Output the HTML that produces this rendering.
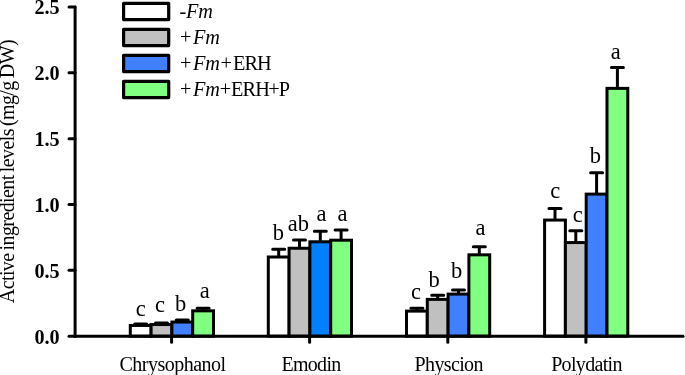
<!DOCTYPE html>
<html><head><meta charset="utf-8"><title>chart</title>
<style>
html,body{margin:0;padding:0;background:#fff;}
svg{display:block;font-family:"Liberation Serif",serif;}
</style></head><body>
<svg width="685" height="375" viewBox="0 0 685 375">
<rect width="685" height="375" fill="#fff"/>

<g stroke="#000" stroke-width="3.0" stroke-linecap="round">
<path d="M140.70 325.47V324.02M134.70 324.02H146.70" fill="none"/>
<rect x="130.30" y="325.47" width="20.80" height="10.68" fill="#ffffff" stroke-linejoin="miter"/>
<path d="M161.50 324.55V322.97M155.50 322.97H167.50" fill="none"/>
<rect x="151.10" y="324.55" width="20.80" height="11.60" fill="#c0c0c0" stroke-linejoin="miter"/>
<path d="M182.30 322.05V319.94M176.30 319.94H188.30" fill="none"/>
<rect x="171.90" y="322.05" width="20.80" height="14.10" fill="#4080ff" stroke-linejoin="miter"/>
<path d="M203.10 310.84V308.34M197.10 308.34H209.10" fill="none"/>
<rect x="192.70" y="310.84" width="20.80" height="25.31" fill="#80ff80" stroke-linejoin="miter"/>
<line x1="171.60" y1="336.15" x2="171.60" y2="342.34999999999997"/>
<path d="M278.70 257.00V249.29M272.70 249.29H284.70" fill="none"/>
<rect x="268.30" y="257.00" width="20.80" height="79.15" fill="#ffffff" stroke-linejoin="miter"/>
<path d="M299.50 248.24V240.00M293.50 240.00H305.50" fill="none"/>
<rect x="289.10" y="248.24" width="20.80" height="87.91" fill="#c0c0c0" stroke-linejoin="miter"/>
<path d="M320.30 241.78V231.14M314.30 231.14H326.30" fill="none"/>
<rect x="309.90" y="241.78" width="20.80" height="94.37" fill="#0080ff" stroke-linejoin="miter"/>
<path d="M341.10 240.20V230.05M335.10 230.05H347.10" fill="none"/>
<rect x="330.70" y="240.20" width="20.80" height="95.95" fill="#80ff80" stroke-linejoin="miter"/>
<line x1="309.60" y1="336.15" x2="309.60" y2="342.34999999999997"/>
<path d="M416.90 311.11V308.21M410.90 308.21H422.90" fill="none"/>
<rect x="406.50" y="311.11" width="20.80" height="25.04" fill="#ffffff" stroke-linejoin="miter"/>
<path d="M437.70 299.38V295.29M431.70 295.29H443.70" fill="none"/>
<rect x="427.30" y="299.38" width="20.80" height="36.77" fill="#c0c0c0" stroke-linejoin="miter"/>
<path d="M458.50 294.11V289.95M452.50 289.95H464.50" fill="none"/>
<rect x="448.10" y="294.11" width="20.80" height="42.04" fill="#4080ff" stroke-linejoin="miter"/>
<path d="M479.30 254.83V246.66M473.30 246.66H485.30" fill="none"/>
<rect x="468.90" y="254.83" width="20.80" height="81.32" fill="#80ff80" stroke-linejoin="miter"/>
<line x1="447.80" y1="336.15" x2="447.80" y2="342.34999999999997"/>
<path d="M555.00 220.07V208.61M549.00 208.61H561.00" fill="none"/>
<rect x="544.60" y="220.07" width="20.80" height="116.08" fill="#ffffff" stroke-linejoin="miter"/>
<path d="M575.80 242.56V230.75M569.80 230.75H581.80" fill="none"/>
<rect x="565.40" y="242.56" width="20.80" height="93.59" fill="#c0c0c0" stroke-linejoin="miter"/>
<path d="M596.60 194.10V172.72M590.60 172.72H602.60" fill="none"/>
<rect x="586.20" y="194.10" width="20.80" height="142.05" fill="#4080ff" stroke-linejoin="miter"/>
<path d="M617.40 88.37V67.61M611.40 67.61H623.40" fill="none"/>
<rect x="607.00" y="88.37" width="20.80" height="247.78" fill="#80ff80" stroke-linejoin="miter"/>
<line x1="585.90" y1="336.15" x2="585.90" y2="342.34999999999997"/>
<line x1="75.1" y1="7.05" x2="75.1" y2="336.15"/>
<line x1="75.1" y1="336.15" x2="683" y2="336.15"/>
<line x1="69.0" y1="336.15" x2="75" y2="336.15"/>
<line x1="69.0" y1="270.33" x2="75" y2="270.33"/>
<line x1="69.0" y1="204.51" x2="75" y2="204.51"/>
<line x1="69.0" y1="138.69" x2="75" y2="138.69"/>
<line x1="69.0" y1="72.87" x2="75" y2="72.87"/>
<line x1="69.0" y1="7.05" x2="75" y2="7.05"/>
</g>
<text x="140.70" y="315.80" font-size="22.5" text-anchor="middle">c</text>
<text x="159.90" y="312.30" font-size="22.5" text-anchor="middle">c</text>
<text x="180.60" y="310.70" font-size="22.5" text-anchor="middle">b</text>
<text x="204.70" y="298.30" font-size="22.5" text-anchor="middle">a</text>
<text x="172.50" y="370.5" font-size="20" letter-spacing="-0.5" text-anchor="middle">Chrysophanol</text>
<text x="278.30" y="239.80" font-size="22.5" text-anchor="middle">b</text>
<text x="298.40" y="230.80" font-size="22.5" text-anchor="middle">ab</text>
<text x="321.50" y="221.20" font-size="22.5" text-anchor="middle">a</text>
<text x="342.50" y="221.20" font-size="22.5" text-anchor="middle">a</text>
<text x="311.00" y="370.5" font-size="20" letter-spacing="-0.7" text-anchor="middle">Emodin</text>
<text x="416.10" y="298.50" font-size="22.5" text-anchor="middle">c</text>
<text x="434.10" y="286.50" font-size="22.5" text-anchor="middle">b</text>
<text x="456.60" y="277.70" font-size="22.5" text-anchor="middle">b</text>
<text x="480.40" y="234.60" font-size="22.5" text-anchor="middle">a</text>
<text x="448.70" y="370.5" font-size="20" letter-spacing="-0.64" text-anchor="middle">Physcion</text>
<text x="555.30" y="197.70" font-size="22.5" text-anchor="middle">c</text>
<text x="577.80" y="221.70" font-size="22.5" text-anchor="middle">c</text>
<text x="595.40" y="162.55" font-size="22.5" text-anchor="middle">b</text>
<text x="615.70" y="59.00" font-size="22.5" text-anchor="middle">a</text>
<text x="586.50" y="370.5" font-size="20" letter-spacing="-0.67" text-anchor="middle">Polydatin</text>
<text x="59.7" y="343.55" font-size="20.2" font-weight="bold" text-anchor="end">0.0</text>
<text x="59.7" y="277.73" font-size="20.2" font-weight="bold" text-anchor="end">0.5</text>
<text x="59.7" y="211.91" font-size="20.2" font-weight="bold" text-anchor="end">1.0</text>
<text x="59.7" y="146.09" font-size="20.2" font-weight="bold" text-anchor="end">1.5</text>
<text x="59.7" y="80.27" font-size="20.2" font-weight="bold" text-anchor="end">2.0</text>
<text x="59.7" y="14.45" font-size="20.2" font-weight="bold" text-anchor="end">2.5</text>
<text transform="translate(14.0,171.6) rotate(-90)" font-size="20" letter-spacing="-0.6" word-spacing="-1.3" text-anchor="middle">Active ingredient levels (mg/g DW)</text>
<rect x="123.6" y="3.35" width="45.1" height="16.2" fill="#ffffff" stroke="#000" stroke-width="3.2" stroke-linejoin="round"/>
<text y="18.10" font-size="20.3"><tspan x="179.5">-</tspan><tspan x="186.0" font-style="italic">F</tspan><tspan x="198.3" font-style="italic">m</tspan></text>
<rect x="123.6" y="29.35" width="45.1" height="16.2" fill="#c0c0c0" stroke="#000" stroke-width="3.2" stroke-linejoin="round"/>
<text y="44.10" font-size="20.3"><tspan x="180.0">+</tspan><tspan x="192.9" font-style="italic">F</tspan><tspan x="205.3" font-style="italic">m</tspan></text>
<rect x="123.6" y="55.35" width="45.1" height="16.2" fill="#4080ff" stroke="#000" stroke-width="3.2" stroke-linejoin="round"/>
<text y="70.10" font-size="20.3"><tspan x="180.0">+</tspan><tspan x="192.9" font-style="italic">F</tspan><tspan x="205.3" font-style="italic">m</tspan><tspan x="220.6">+</tspan><tspan x="233.0">E</tspan><tspan x="244.4">R</tspan><tspan x="257.0">H</tspan></text>
<rect x="123.6" y="81.35" width="45.1" height="16.2" fill="#80ff80" stroke="#000" stroke-width="3.2" stroke-linejoin="round"/>
<text y="96.10" font-size="20.3"><tspan x="180.0">+</tspan><tspan x="192.9" font-style="italic">F</tspan><tspan x="205.3" font-style="italic">m</tspan><tspan x="219.85">+</tspan><tspan x="231.1">E</tspan><tspan x="242.6">R</tspan><tspan x="255.2">H</tspan><tspan x="268.3">+</tspan><tspan x="278.7">P</tspan></text>
</svg></body></html>
